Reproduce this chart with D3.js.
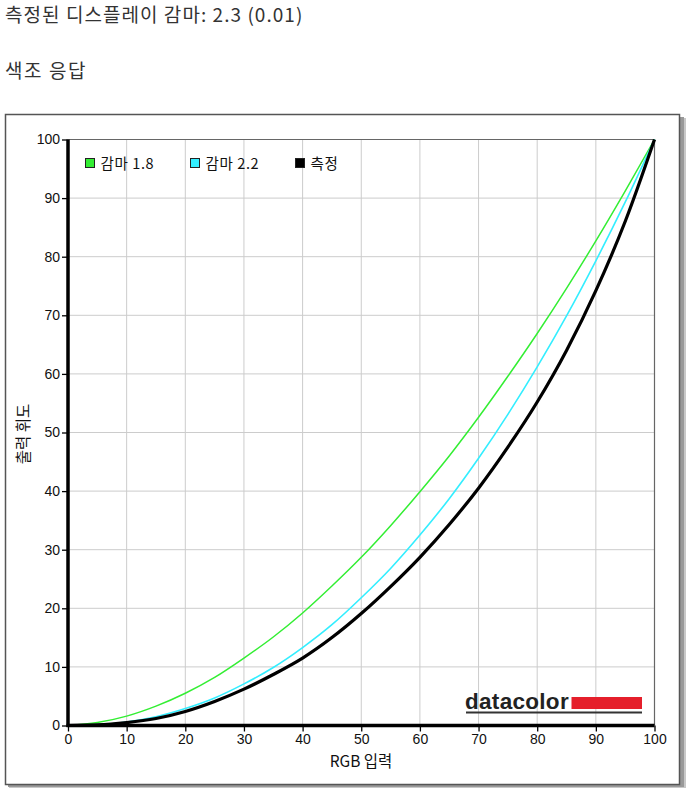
<!DOCTYPE html>
<html><head><meta charset="utf-8">
<script src="https://cdn.jsdelivr.net/npm/d3@7"></script>
<style>
body{margin:0;background:#fff;}
svg{display:block;}
</style></head>
<body>
<svg id="c" width="688" height="790"></svg>
<script>
const titleText = "측정된 디스플레이 감마: 2.3 (0.01)";
const subTitle = "색조 응답";
const xLabel = "RGB 입력";
const yLabel = "출력 휘도";
const inputs = [0,5,10,15,20,25,30,35,40,45,50,55,60,65,70,75,80,85,90,95,100];
const gamma18 = [0,0.5,1.6,3.3,5.5,8.2,11.5,15.1,19.2,23.8,28.7,34.1,39.9,46.0,52.6,59.6,66.9,74.6,82.7,91.2,100];
const gamma22 = [0,0.1,0.6,1.5,2.9,4.7,7.1,9.9,13.3,17.2,21.8,26.8,32.5,38.7,45.6,53.1,61.2,69.9,79.3,89.3,100];
const measured = [0,0.1,0.5,1.2,2.4,4.1,6.2,8.7,11.5,15.0,19.1,23.7,28.7,34.3,40.5,47.5,55.2,64.0,74.2,86.0,100];
const ticks = [0,10,20,30,40,50,60,70,80,90,100];
const seriesNames = ["감마 1.8","감마 2.2","측정"];
const seriesColors = ["#33ee33","#33eeff","#000000"];

const svg = d3.select("#c");
const kr = "'Noto Sans CJK KR','Noto Sans',sans-serif";

svg.append("text").attr("x",5).attr("y",22).attr("font-family",kr).attr("font-size",19).attr("letter-spacing",1.05).attr("fill","#333").text(titleText);
svg.append("text").attr("x",5).attr("y",78).attr("font-family",kr).attr("font-size",19).attr("letter-spacing",1.6).attr("fill","#333").text(subTitle);

// frame with shadow
svg.append("rect").attr("x",9).attr("y",118).attr("width",677).attr("height",670).attr("fill","#c8c8c8");
svg.append("rect").attr("x",8).attr("y",117).attr("width",676).attr("height",670).attr("fill","#999");
svg.append("rect").attr("x",5.5).attr("y",114.5).attr("width",674).attr("height",670).attr("fill","#fff").attr("stroke","#555").attr("stroke-width",1.5);

const x = d3.scaleLinear().domain([0,100]).range([68,654.5]);
const y = d3.scaleLinear().domain([0,100]).range([725.5,139.5]);

// grid
svg.append("g").selectAll("line").data(ticks.slice(1,-1)).join("line")
  .attr("x1",d=>x(d)).attr("x2",d=>x(d)).attr("y1",y(100)).attr("y2",y(0))
  .attr("stroke","#cccccc").attr("stroke-width",1);
svg.append("g").selectAll("line").data(ticks.slice(1,-1)).join("line")
  .attr("y1",d=>y(d)).attr("y2",d=>y(d)).attr("x1",x(0)).attr("x2",x(100))
  .attr("stroke","#cccccc").attr("stroke-width",1);
// top / right border
svg.append("line").attr("x1",x(0)).attr("x2",x(100)).attr("y1",y(100)).attr("y2",y(100)).attr("stroke","#666").attr("stroke-width",1.2);
svg.append("line").attr("x1",x(100)).attr("x2",x(100)).attr("y1",y(100)).attr("y2",y(0)).attr("stroke","#666").attr("stroke-width",1.2);

// axes
const yAxis = d3.axisLeft(y).tickValues(ticks).tickSize(6).tickPadding(2).tickFormat(d3.format("d"));
const xAxis = d3.axisBottom(x).tickValues(ticks).tickSize(6).tickPadding(3).tickFormat(d3.format("d"));
const ga = svg.append("g").attr("transform",`translate(${x(0)},0)`).call(yAxis);
const gb = svg.append("g").attr("transform",`translate(0,${y(0)})`).call(xAxis);
[ga,gb].forEach(g=>{
  g.select(".domain").remove();
  g.selectAll(".tick line").attr("stroke","#000").attr("stroke-width",1.3);
  g.selectAll(".tick text").attr("font-family","'Liberation Sans',Arial,sans-serif").attr("font-size",14).attr("fill","#111");
});

// datacolor logo
svg.append("text").attr("x",465).attr("y",708.5).attr("font-family","'Liberation Sans',Arial,sans-serif")
  .attr("font-weight","bold").attr("font-size",22.5).attr("fill","#222").attr("letter-spacing",0.3).text("datacolor");
svg.append("rect").attr("x",571.5).attr("y",697).attr("width",70.5).attr("height",12).attr("fill","#e51f2b");
svg.append("rect").attr("x",466).attr("y",711.5).attr("width",176).attr("height",2).attr("fill","#333");

// lines
const data = [gamma18,gamma22,measured];
const widths = [1.5,1.6,3.2];
const line = d3.line().x((d,i)=>x(inputs[i])).y(d=>y(d)).curve(d3.curveMonotoneX);
data.forEach((s,k)=>{
  svg.append("path").datum(s).attr("d",line).attr("fill","none")
    .attr("stroke",seriesColors[k]).attr("stroke-width",widths[k]).attr("stroke-linejoin","round");
});

// axis lines (thick)
svg.append("line").attr("x1",x(0)).attr("x2",x(0)).attr("y1",y(100)).attr("y2",y(0)+1.5).attr("stroke","#000").attr("stroke-width",3.5);
svg.append("line").attr("x1",x(0)-1.5).attr("x2",x(100)).attr("y1",y(0)).attr("y2",y(0)).attr("stroke","#000").attr("stroke-width",3.5);

// legend
const legX = [85.5,190.5,295.5];
seriesNames.forEach((n,i)=>{
  svg.append("rect").attr("x",legX[i]).attr("y",158.5).attr("width",9).attr("height",9)
    .attr("fill",seriesColors[i]).attr("stroke","#222").attr("stroke-width",1);
  svg.append("text").attr("x",legX[i]+15).attr("y",168.5).attr("font-family",kr).attr("font-size",14.5).attr("letter-spacing",0.6).attr("fill","#111").text(n);
});

// axis titles
svg.append("text").attr("x",361).attr("y",767).attr("text-anchor","middle").attr("font-family",kr).attr("font-size",15.5).attr("fill","#111").text(xLabel);
svg.append("text").attr("transform","translate(29,434) rotate(-90)").attr("text-anchor","middle").attr("font-family",kr).attr("font-size",15.5).attr("fill","#111").text(yLabel);
</script>
</body></html>
